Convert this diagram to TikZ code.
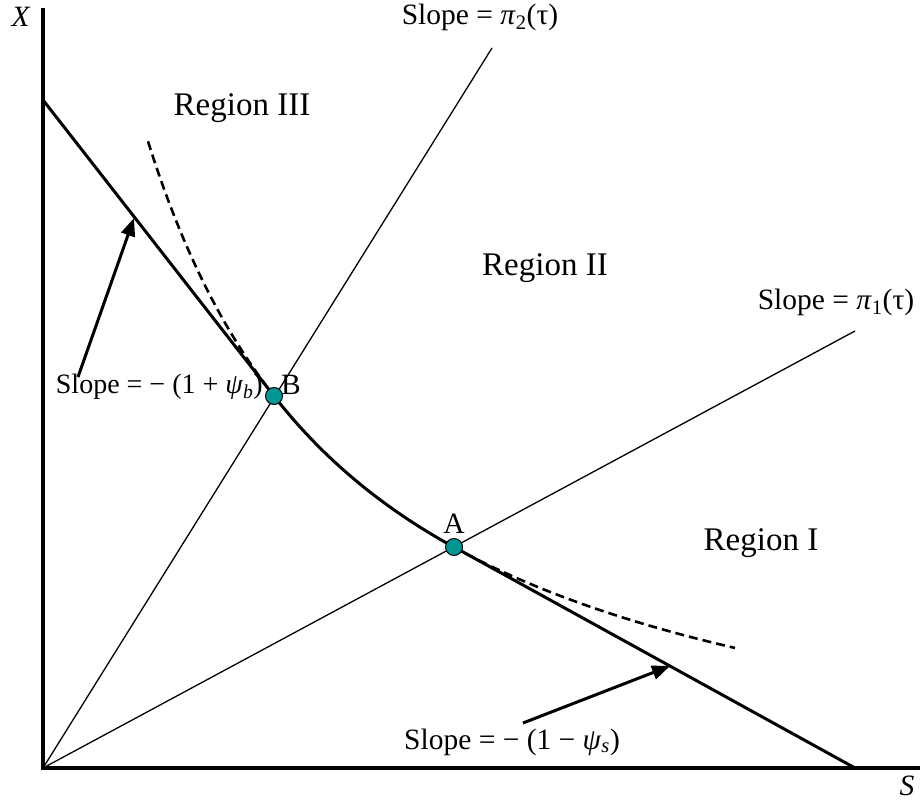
\documentclass[tikz,border=0pt]{standalone}
\usepackage{fontspec}
\setmainfont{Liberation Serif}
\usetikzlibrary{arrows.meta}
\definecolor{dotteal}{RGB}{0,150,150}
\begin{document}
\begin{tikzpicture}[x=1pt,y=-1pt,
 axis/.style={line width=4.5pt},
 kink/.style={line width=3pt},
 ray/.style={line width=1.3pt},
 dashcurve/.style={line width=2.6pt, dash pattern=on 9pt off 5pt},
 pointer/.style={line width=3pt,-{Triangle[length=18pt,width=14pt]}},
 dot/.style={circle,draw=black,line width=1pt,fill=dotteal,minimum size=17pt,inner sep=0pt},
 lbl/.style={font=\fontsize{29.5}{33}\selectfont, inner sep=0pt},
 reg/.style={font=\fontsize{33}{37}\selectfont, inner sep=0pt}]
\useasboundingbox (0,0) rectangle (920,802);
% key coordinates
\coordinate (O) at (43,768);
\coordinate (Ytop) at (43,8);
\coordinate (Xend) at (920,768);
\coordinate (Bpt) at (274,396);
\coordinate (Apt) at (454,547);
\coordinate (K1) at (43,100);
\coordinate (K2) at (855,768);
\coordinate (R2) at (492,48);
\coordinate (R1) at (855,331);
% rays
\draw[ray] (O) -- (R2);
\draw[ray] (O) -- (R1);
% dashed curve (outer parts)
\draw[dashcurve] plot[domain=148:274, samples=40] (\x, {768 - (-67.7 + 1510.32/((\x+69.5)/100))});
\draw[dashcurve] plot[domain=454:735, samples=40] (\x, {768 - (-67.7 + 1510.32/((\x+69.5)/100))});
% kinked frontier
\draw[kink, line join=round] (K1) -- (Bpt) -- plot[domain=274:454, samples=40] (\x, {768 - (-67.7 + 1510.32/((\x+69.5)/100))}) -- (Apt) -- (K2);
% axes
\draw[axis, line join=miter] (Ytop) -- (O) -- (Xend);
% points
\node[dot] (B) at (Bpt) {};
\node[dot] (A) at (Apt) {};
\node[lbl, anchor=west] (Blbl) at (281,385) {B};
\node[lbl, anchor=south] (Albl) at (454,534) {A};
% axis labels
\node[lbl] (Xlbl) at (21,17) {\textit{X}};
\node[lbl] (Slbl) at (907,786) {\textit{S}};
% region labels
\node[reg] (r3) at (242,108) {Region III};
\node[reg] (r2) at (545,268) {Region II};
\node[reg] (r1) at (761,543) {Region I};
% slope labels
\node[lbl] (s2) at (480,17) {Slope = \textit{π}\textsubscript{2}(τ)};
\node[lbl] (s1) at (836,302) {Slope = \textit{π}\textsubscript{1}(τ)};
\node[lbl, anchor=east, font=\fontsize{28}{32}\selectfont] (sb) at (263,387) {Slope = − (1 + \textit{ψ}\textsubscript{\textit{b}})};
\node[lbl] (ss) at (512,742) {Slope = − (1 − \textit{ψ}\textsubscript{\textit{s}})};
% pointers
\coordinate (pb1) at (78,377);
\coordinate (pb2) at (134,218);
\coordinate (ps1) at (523,723);
\coordinate (ps2) at (670,666);
\draw[pointer] (pb1) -- (pb2);
\draw[pointer] (ps1) -- (ps2);
\end{tikzpicture}
\end{document}
